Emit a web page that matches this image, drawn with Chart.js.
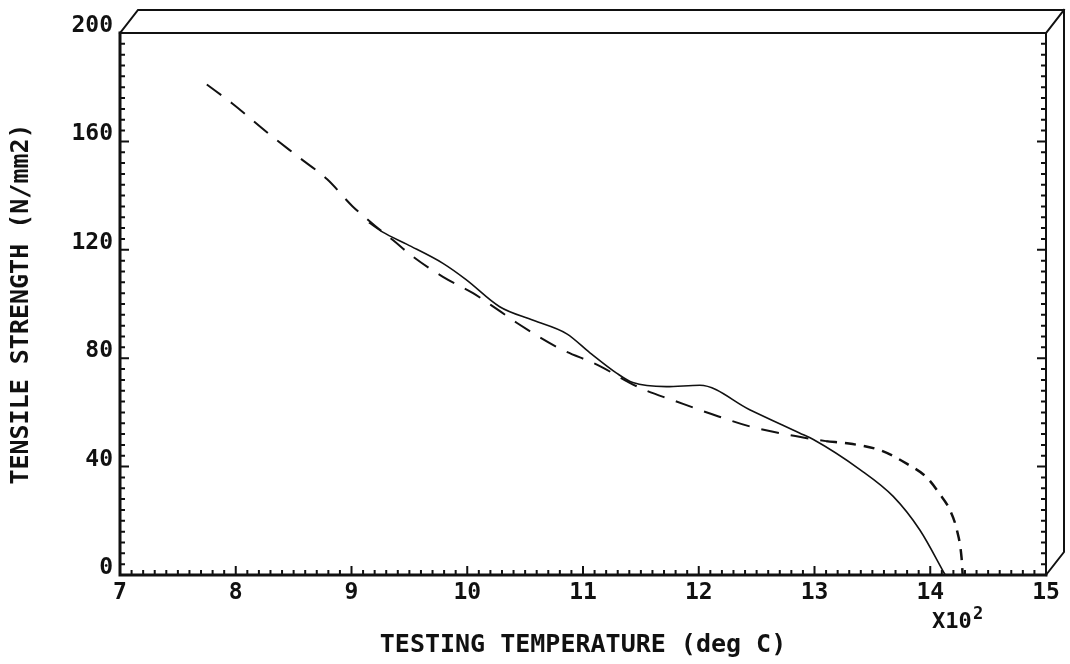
<!DOCTYPE html>
<html>
<head>
<meta charset="utf-8">
<script src="https://cdn.jsdelivr.net/npm/chart.js@4.4.1/dist/chart.umd.min.js"></script>
<style>
  html, body { margin: 0; padding: 0; background: #fff; }
  canvas { display: block; }
</style>
</head>
<body>
<canvas id="myChart" width="1070" height="664"></canvas>
<script>
// values (temperature in units of 100 deg C)
var longDashTemp = [7.75, 7.97, 8.28, 8.55, 8.79, 9.01, 9.2, 9.36, 9.53, 9.79, 10.05, 10.26, 10.43, 10.78, 11.15, 11.4, 11.55, 11.77, 12.11, 12.46, 12.88, 13.1];
var longDashStrength = [181, 174, 163, 154, 146, 136, 129, 123.5, 117.5, 110, 104, 98, 93, 84, 77, 71, 68, 64.6, 59.4, 54.6, 50.9, 49.4];

var shortDashTemp = [13.1, 13.33, 13.57, 13.8, 13.97, 14.08, 14.17, 14.23, 14.27, 14.28];
var shortDashStrength = [49.4, 48.3, 46, 41, 36, 30, 24, 16.6, 6.6, 0];

var solidTemp = [9.15, 9.27, 9.48, 9.79, 9.99, 10.28, 10.57, 10.86, 11.06, 11.29, 11.43, 11.72, 12.01, 12.44, 12.87, 12.99, 13.39, 13.68, 13.91, 14.13];
var solidStrength = [130, 126.5, 122, 115, 109, 99, 94, 89, 82, 74.5, 71, 69.5, 70, 61, 52.4, 50, 39, 29, 16.6, 0];

var xTicks = [7, 8, 9, 10, 11, 12, 13, 14, 15];
var yTicks = [0, 40, 80, 120, 160, 200];

var FONT = '"DejaVu Sans Mono", "Liberation Mono", monospace';

function toPoints(xs, ys) {
  var pts = [];
  for (var i = 0; i < xs.length; i++) {
    pts.push({ x: xs[i], y: ys[i] });
  }
  return pts;
}

// frame, 3d box edges, tick marks and the x10^2 note
var framePlugin = {
  id: 'frame',
  afterDraw: function (chart) {
    var ctx = chart.ctx;
    var a = chart.chartArea;
    var xs = chart.scales.x;
    var ys = chart.scales.y;
    var dx = 18, dy = 23;
    ctx.save();
    ctx.strokeStyle = '#111';
    ctx.lineCap = 'square';

    ctx.lineWidth = 2;
    ctx.beginPath();
    ctx.moveTo(a.left, a.top); ctx.lineTo(a.right, a.top); ctx.lineTo(a.right, a.bottom);
    // box top and side
    ctx.moveTo(a.left, a.top); ctx.lineTo(a.left + dx, a.top - dy);
    ctx.lineTo(a.right + dx, a.top - dy); ctx.lineTo(a.right + dx, a.bottom - dy);
    ctx.lineTo(a.right, a.bottom);
    ctx.moveTo(a.right, a.top); ctx.lineTo(a.right + dx, a.top - dy);
    ctx.stroke();

    ctx.lineWidth = 3;
    ctx.beginPath();
    ctx.moveTo(a.left, a.top); ctx.lineTo(a.left, a.bottom); ctx.lineTo(a.right, a.bottom);
    ctx.stroke();

    // y ticks, left and right, every 4
    ctx.lineWidth = 2;
    ctx.lineCap = 'butt';
    ctx.beginPath();
    for (var v = 0; v <= 200; v += 4) {
      var py = ys.getPixelForValue(v);
      var len = (v % 40 === 0) ? 9 : 5;
      ctx.moveTo(a.left, py); ctx.lineTo(a.left + len, py);
      ctx.moveTo(a.right, py); ctx.lineTo(a.right - len, py);
    }
    // x ticks every 0.1
    for (var k = 70; k <= 150; k++) {
      var px = xs.getPixelForValue(k / 10);
      var l = (k % 10 === 0) ? 9 : 5;
      ctx.moveTo(px, a.bottom); ctx.lineTo(px, a.bottom - l);
    }
    ctx.stroke();

    // x10^2
    ctx.fillStyle = '#111';
    ctx.textBaseline = 'alphabetic';
    ctx.textAlign = 'left';
    ctx.font = 'bold 22px ' + FONT;
    ctx.fillText('X10', 932, 628);
    ctx.font = 'bold 17px ' + FONT;
    ctx.fillText('2', 973, 619);
    ctx.restore();
  }
};

var ctx = document.getElementById('myChart').getContext('2d');
var myChart = new Chart(ctx, {
  type: 'scatter',
  data: {
    datasets: [
      {
        data: toPoints(longDashTemp, longDashStrength),
        showLine: true,
        borderColor: '#111',
        borderWidth: 2,
        borderDash: [18, 12],
        pointRadius: 0,
        tension: 0.3,
        cubicInterpolationMode: 'monotone'
      },
      {
        data: toPoints(shortDashTemp, shortDashStrength),
        showLine: true,
        borderColor: '#111',
        borderWidth: 2.5,
        borderDash: [11, 8],
        pointRadius: 0,
        tension: 0.3,
        cubicInterpolationMode: 'monotone'
      },
      {
        data: toPoints(solidTemp, solidStrength),
        showLine: true,
        borderColor: '#111',
        borderWidth: 1.6,
        pointRadius: 0,
        tension: 0.3,
        cubicInterpolationMode: 'monotone'
      }
    ]
  },
  options: {
    responsive: false,
    devicePixelRatio: 1,
    animation: false,
    layout: { padding: { left: 0, right: 24, top: 33, bottom: 0 } },
    plugins: {
      legend: { display: false },
      tooltip: { enabled: false }
    },
    scales: {
      x: {
        type: 'linear',
        min: 7,
        max: 15,
        afterBuildTicks: function (s) { s.ticks = xTicks.map(function (v) { return { value: v }; }); },
        afterFit: function (s) { s.height = 89; },
        grid: { display: false, drawTicks: false },
        border: { display: false },
        ticks: { color: '#111', padding: 4, maxRotation: 0, font: { family: FONT, size: 23, weight: 'bold' } },
        title: {
          display: true,
          text: 'TESTING TEMPERATURE (deg C)',
          color: '#111',
          font: { family: FONT, size: 25, weight: 'bold' },
          padding: { top: 4, bottom: 4 }
        }
      },
      y: {
        min: 0,
        max: 200,
        afterBuildTicks: function (s) { s.ticks = yTicks.map(function (v) { return { value: v }; }); },
        afterFit: function (s) { s.width = 120; },
        grid: { display: false, drawTicks: false },
        border: { display: false },
        ticks: { color: '#111', padding: 7, labelOffset: -7, font: { family: FONT, size: 23, weight: 'bold' } },
        title: {
          display: true,
          text: 'TENSILE STRENGTH (N/mm2)',
          color: '#111',
          font: { family: FONT, size: 25, weight: 'bold' },
          padding: { top: 6, bottom: 4 }
        }
      }
    }
  },
  plugins: [framePlugin]
});
</script>
</body>
</html>
